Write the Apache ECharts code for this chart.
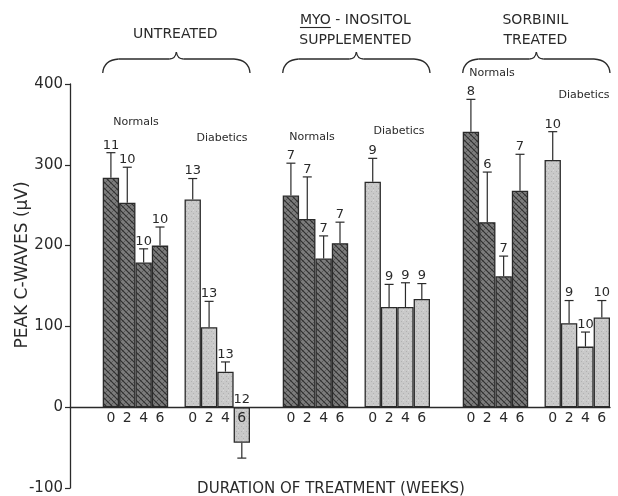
<!DOCTYPE html>
<html>
<head>
<meta charset="utf-8">
<script src="https://cdn.jsdelivr.net/npm/echarts@6/dist/echarts.min.js"></script>
<style>html,body{margin:0;padding:0;background:#fff}#c{width:618px;height:496px}</style>
</head>
<body>
<div id="c"></div>
<script>
// ---- data ----
const weeks = ['0', '2', '4', '6'];
const yTicks = [-100, 0, 100, 200, 300, 400];

const untreatedNormals = [284, 253, 179, 200];
const untreatedNormalsErr = [31, 44, 17, 23];
const untreatedNormalsN = [11, 10, 10, 10];
const untreatedDiabetics = [257, 99, 44, -44];
const untreatedDiabeticsErr = [26, 32, 12, 19];
const untreatedDiabeticsN = [13, 13, 13, 12];

const myoNormals = [262, 233, 184, 203];
const myoNormalsErr = [40, 52, 28, 26];
const myoNormalsN = [7, 7, 7, 7];
const myoDiabetics = [279, 124, 124, 134];
const myoDiabeticsErr = [29, 28, 30, 19];
const myoDiabeticsN = [9, 9, 9, 9];

const sorbNormals = [341, 229, 162, 268];
const sorbNormalsErr = [40, 62, 25, 45];
const sorbNormalsN = [8, 6, 7, 7];
const sorbDiabetics = [306, 104, 75, 111];
const sorbDiabeticsErr = [35, 28, 18, 21];
const sorbDiabeticsN = [10, 9, 10, 10];

const treatmentTitles = [['UNTREATED'], ['MYO - INOSITOL', 'SUPPLEMENTED'], ['SORBINIL', 'TREATED']];

// ---- build slots ----
const treatments = [
  [untreatedNormals, untreatedNormalsErr, untreatedNormalsN, untreatedDiabetics, untreatedDiabeticsErr, untreatedDiabeticsN],
  [myoNormals, myoNormalsErr, myoNormalsN, myoDiabetics, myoDiabeticsErr, myoDiabeticsN],
  [sorbNormals, sorbNormalsErr, sorbNormalsN, sorbDiabetics, sorbDiabeticsErr, sorbDiabeticsN]
];
const cats = [], nData = [], dData = [], errData = [], groupStart = [], groupEnd = [];
function pushEmpty(k) { for (let i = 0; i < k; i++) { cats.push(''); nData.push('-'); dData.push('-'); } }
pushEmpty(2);
treatments.forEach((t, ti) => {
  groupStart.push(cats.length);
  t[0].forEach((v, i) => { const idx = cats.length; cats.push(weeks[i]); nData.push(v); dData.push('-'); errData.push([idx, v, t[1][i], t[2][i]]); });
  pushEmpty(1);
  t[3].forEach((v, i) => { const idx = cats.length; cats.push(weeks[i]); nData.push('-'); dData.push(v); errData.push([idx, v, t[4][i], t[5][i]]); });
  groupEnd.push(cats.length - 1);
  if (ti < treatments.length - 1) pushEmpty(2);
});

// ---- textures ----
function darkPattern() {
  const c = document.createElement('canvas'); c.width = 6; c.height = 6;
  const g = c.getContext('2d');
  g.fillStyle = '#7c7c7c'; g.fillRect(0, 0, 6, 6);
  g.strokeStyle = '#2e2e2e'; g.lineWidth = 1.1;
  g.beginPath(); g.moveTo(0, 0); g.lineTo(6, 6); g.moveTo(-3, 3); g.lineTo(3, 9); g.moveTo(3, -3); g.lineTo(9, 3); g.stroke();
  g.strokeStyle = '#4c4c4c'; g.lineWidth = 0.7;
  g.beginPath(); g.moveTo(6, 0); g.lineTo(0, 6); g.stroke();
  return c;
}
function lightPattern() {
  const c = document.createElement('canvas'); c.width = 5; c.height = 5;
  const g = c.getContext('2d');
  g.fillStyle = '#c9c9c9'; g.fillRect(0, 0, 5, 5);
  g.fillStyle = '#b2b2b2'; g.fillRect(1, 1, 1, 1); g.fillRect(3, 3, 1, 1);
  g.fillStyle = '#d8d8d8'; g.fillRect(3, 0, 1, 1);
  return c;
}

const FONT = 'DejaVu Sans';
const INK = '#2a2a2a';
const chart = echarts.init(document.getElementById('c'), null, { renderer: 'canvas' });

const option = {
  backgroundColor: '#ffffff',
  animation: false,
  grid: { left: 70, right: 8, top: 84, bottom: 8, containLabel: false },
  xAxis: {
    type: 'category', data: cats, z: 5,
    axisLine: { onZero: true, lineStyle: { color: INK, width: 1.3 } },
    axisTick: { show: false },
    axisLabel: { show: false },
    splitLine: { show: false }
  },
  yAxis: {
    type: 'value', min: yTicks[0], max: yTicks[yTicks.length - 1], interval: 100,
    axisLine: { show: true, lineStyle: { color: INK, width: 1.3 } },
    axisTick: { show: true, length: 5, lineStyle: { color: INK, width: 1.2 } },
    axisLabel: { fontSize: 15, fontFamily: FONT, color: INK, margin: 7 },
    splitLine: { show: false }
  },
  series: [
    { type: 'bar', name: 'Normals', data: nData, barGap: '-100%', barCategoryGap: '0%', z: 2,
      itemStyle: { color: { image: darkPattern(), repeat: 'repeat' }, borderColor: INK, borderWidth: 1.3 } },
    { type: 'bar', name: 'Diabetics', data: dData, barGap: '-100%', barCategoryGap: '0%', z: 2,
      itemStyle: { color: { image: lightPattern(), repeat: 'repeat' }, borderColor: INK, borderWidth: 1.3 } },
    { type: 'custom', name: 'err', data: errData, z: 6, encode: { x: 0, y: 1 },
      renderItem: function (params, api) {
        const x = api.value(0), v = api.value(1), e = api.value(2), n = api.value(3);
        const dir = v >= 0 ? 1 : -1;
        const p0 = api.coord([x, v]);
        const p1 = api.coord([x, v + dir * e]);
        const pz = api.coord([x, 0]);
        const cx = p0[0];
        const ly = v >= 0 ? p1[1] - 1 : pz[1] - 1;
        const st = { stroke: INK, lineWidth: 1.2 };
        return { type: 'group', children: [
          { type: 'line', shape: { x1: cx, y1: p0[1], x2: cx, y2: p1[1] }, style: st },
          { type: 'line', shape: { x1: cx - 4.5, y1: p1[1], x2: cx + 4.5, y2: p1[1] }, style: st },
          { type: 'text', style: { text: String(n), x: cx, y: ly, align: 'center', verticalAlign: 'bottom', fontSize: 13, fontFamily: FONT, fill: INK } },
          { type: 'text', style: { text: cats[x], x: cx, y: pz[1] + 4, align: 'center', verticalAlign: 'top', fontSize: 14, fontFamily: FONT, fill: INK } }
        ] };
      }
    }
  ]
};
chart.setOption(option);

// ---- annotations (braces, titles) positioned from the axis ----
const c0 = chart.convertToPixel({ xAxisIndex: 0 }, 0);
const c1 = chart.convertToPixel({ xAxisIndex: 0 }, 1);
const sw = c1 - c0;
const graphics = [];
const meas = document.createElement('canvas').getContext('2d');
const bst = { stroke: INK, lineWidth: 1.3, fill: null };
groupStart.forEach((s, gi) => {
  const x0 = chart.convertToPixel({ xAxisIndex: 0 }, s) - sw / 2;
  const x1 = chart.convertToPixel({ xAxisIndex: 0 }, groupEnd[gi]) + sw / 2;
  const xc = (x0 + x1) / 2;
  const yE = 73, yM = 59, yP = 52;
  graphics.push({ type: 'bezierCurve', shape: { x1: x0, y1: yE, cpx1: x0 + 1, cpy1: yM + 1, x2: x0 + 16, y2: yM }, style: bst, silent: true });
  graphics.push({ type: 'line', shape: { x1: x0 + 16, y1: yM, x2: xc - 7, y2: yM }, style: bst, silent: true });
  graphics.push({ type: 'bezierCurve', shape: { x1: xc - 7, y1: yM, cpx1: xc - 1, cpy1: yM, x2: xc, y2: yP }, style: bst, silent: true });
  graphics.push({ type: 'bezierCurve', shape: { x1: xc, y1: yP, cpx1: xc + 1, cpy1: yM, x2: xc + 7, y2: yM }, style: bst, silent: true });
  graphics.push({ type: 'line', shape: { x1: xc + 7, y1: yM, x2: x1 - 16, y2: yM }, style: bst, silent: true });
  graphics.push({ type: 'bezierCurve', shape: { x1: x1 - 16, y1: yM, cpx1: x1 - 1, cpy1: yM + 1, x2: x1, y2: yE }, style: bst, silent: true });
  const lines = treatmentTitles[gi];
  const ys = lines.length === 1 ? [34] : [20, 40];
  lines.forEach((t, li) => {
    graphics.push({ type: 'text', x: xc - 1, y: ys[li], style: { text: t, align: 'center', verticalAlign: 'middle', fontSize: 14, fontFamily: FONT, fill: INK } });
    if (t.indexOf('MYO') === 0) {
      meas.font = '14px "' + FONT + '"';
      const w = meas.measureText(t).width, wm = meas.measureText('MYO').width;
      const lx = xc - 1 - w / 2;
      graphics.push({ type: 'line', shape: { x1: lx, y1: ys[li] + 7.5, x2: lx + wm, y2: ys[li] + 7.5 }, style: { stroke: INK, lineWidth: 1.1 } });
    }
  });
});
const subLabels = [
  ['Normals', 136, 122], ['Diabetics', 222, 138],
  ['Normals', 312, 137], ['Diabetics', 399, 131],
  ['Normals', 492, 73], ['Diabetics', 584, 95]
];
subLabels.forEach(s => graphics.push({ type: 'text', x: s[1], y: s[2], style: { text: s[0], align: 'center', verticalAlign: 'middle', fontSize: 11, fontFamily: FONT, fill: INK } }));
graphics.push({ type: 'text', x: 331, y: 489, style: { text: 'DURATION OF TREATMENT (WEEKS)', align: 'center', verticalAlign: 'middle', fontSize: 15, fontFamily: FONT, fill: INK } });
graphics.push({ type: 'text', x: 23, y: 265, rotation: Math.PI / 2, style: { text: 'PEAK C-WAVES (μV)', align: 'center', verticalAlign: 'middle', fontSize: 17, fontFamily: FONT, fill: INK } });
chart.setOption({ graphic: graphics });
</script>
</body>
</html>
